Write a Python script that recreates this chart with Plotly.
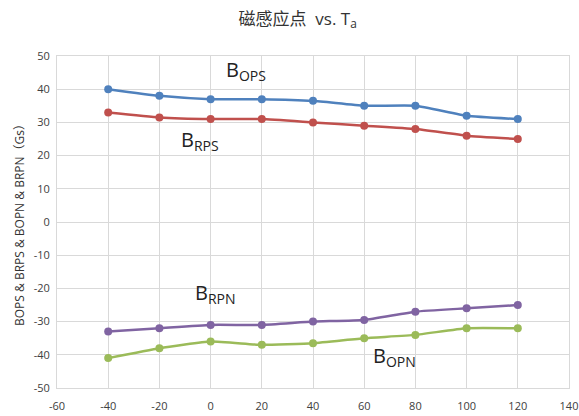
import plotly.graph_objects as go

# Temperature points (°C)
temps = [-40, -20, 0, 20, 40, 60, 80, 100, 120]

# Magnetic switching points (Gs)
b_ops = [40, 38, 37, 37, 36.5, 35, 35, 32, 31]
b_rps = [33, 31.5, 31, 31, 30, 29, 28, 26, 25]
b_rpn = [-33, -32, -31, -31, -30, -29.5, -27, -26, -25]
b_opn = [-41, -38, -36, -37, -36.5, -35, -34, -32, -32]

# Axis ticks
x_ticks = [-60, -40, -20, 0, 20, 40, 60, 80, 100, 120, 140]
y_ticks = [-50, -40, -30, -20, -10, 0, 10, 20, 30, 40, 50]

series = [
    ("B_OPS", b_ops, "#4F81BD"),
    ("B_RPS", b_rps, "#C0504D"),
    ("B_RPN", b_rpn, "#8064A2"),
    ("B_OPN", b_opn, "#9BBB59"),
]

# Inline series labels: (text, x, y)
labels = [
    ("B<sub>OPS</sub>", 14, 45.5),
    ("B<sub>RPS</sub>", -4, 24.5),
    ("B<sub>RPN</sub>", 2, -21.5),
    ("B<sub>OPN</sub>", 72, -40.5),
]

font_family = "Open Sans, Liberation Sans, Noto Sans CJK SC, sans-serif"

fig = go.Figure()
for name, vals, color in series:
    fig.add_trace(go.Scatter(
        x=temps, y=vals, name=name, mode="lines+markers",
        line=dict(color=color, width=2.5, shape="spline", smoothing=0.4),
        marker=dict(color=color, size=8),
        showlegend=False,
    ))

for text, x, y in labels:
    fig.add_annotation(x=x, y=y, text=text, showarrow=False,
                       font=dict(size=20, color="#222222", family=font_family))

axis_common = dict(
    showgrid=True, gridcolor="#D9D9D9", gridwidth=1,
    zeroline=False, showline=True, linecolor="#D9D9D9", linewidth=1,
    mirror=True, ticks="", automargin=False,
    tickfont=dict(size=11, color="#404040", family=font_family),
)

fig.update_layout(
    width=579, height=416,
    margin=dict(l=57, r=10, t=56, b=28),
    paper_bgcolor="white", plot_bgcolor="white",
    title=dict(text="磁感应点  vs. T<sub>a</sub>", x=0.47, xanchor="center",
               xref="paper", y=0.955, yanchor="middle",
               font=dict(size=17, color="#333333", family=font_family)),
    xaxis=dict(range=[-60, 140], tickmode="array", tickvals=x_ticks,
               ticktext=[str(v) for v in x_ticks], ticklabelstandoff=8,
               **axis_common),
    yaxis=dict(range=[-50, 50], tickmode="array", tickvals=y_ticks,
               ticktext=[str(v) for v in y_ticks], ticklabelstandoff=4,
               title=dict(text="BOPS & BRPS & BOPN & BRPN（Gs）", standoff=6,
                          font=dict(size=12, color="#333333", family=font_family)),
               **axis_common),
)

fig.write_html("out.html")
